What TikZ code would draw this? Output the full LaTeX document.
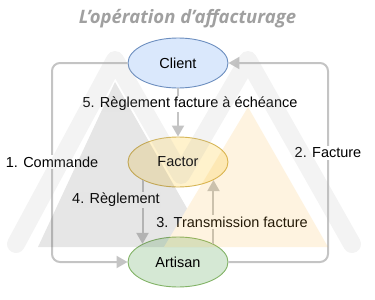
\documentclass[tikz,border=0pt]{standalone}
\usepackage{fontspec}
\setmainfont{Liberation Sans}
\newfontfamily\titlefont{Open Sans}
\usepackage{xcolor}
\definecolor{afblue}{HTML}{DAE8FC}
\definecolor{afbluedark}{HTML}{6C8EBF}
\definecolor{afyellow}{HTML}{FFF2CC}
\definecolor{afyellowdark}{HTML}{D6B656}
\definecolor{afgreen}{HTML}{D5E8D4}
\definecolor{afgreendark}{HTML}{82B366}
\definecolor{afline}{HTML}{C4C4C4}
\definecolor{aftitle}{HTML}{A0A0A0}
\definecolor{afband}{HTML}{B0B0B0}
\definecolor{afgray}{HTML}{555555}
\definecolor{aforange}{HTML}{F7B030}
\usetikzlibrary{arrows.meta, shapes.geometric}

\begin{document}
\begin{tikzpicture}[x=1pt, y=-1pt,
  actor/.style={ellipse, minimum width=100pt, minimum height=50pt, line width=0.9pt,
    font=\fontsize{14.5}{16}\selectfont},
  flow/.style={afline, line width=2pt, -{Triangle[length=11pt, width=12pt]}},
  lbl/.style={fill=white, inner sep=1.5pt, font=\fontsize{14.5}{16}\selectfont}]
  \useasboundingbox (0,0) rectangle (375,300);

  % Title
  \node[font=\titlefont\bfseries\itshape\fontsize{18.5}{20}\selectfont, aftitle] (title) at (187.5,19) {L’opération d’affacturage};

  % Actors
  \node[actor, fill=afblue, draw=afbluedark] (client) at (178,63) {Client};
  \node[actor, fill=afyellow, draw=afyellowdark] (factor) at (178,162) {Factor};
  \node[actor, fill=afgreen, draw=afgreendark] (artisan) at (178,262) {Artisan};

  % Outer loops
  \coordinate (lc) at (52,162);
  \coordinate (rc) at (328,153);
  \draw[flow, rounded corners=8pt] (client.west) -| (lc) |- (artisan.west);
  \draw[flow, rounded corners=8pt] (artisan.east) -| (rc) |- (client.east);
  \node[lbl] (cmd) at (lc) {1. Commande};
  \node[lbl] (fac) at (rc) {2. Facture};

  % Inner flows
  \draw[flow] (client.south) -- (factor.north);
  \draw[flow] (factor.207) -- (artisan.153);
  \draw[flow] (artisan.27) -- (factor.333);
  \node[lbl] (pay5) at (190,104) {5. Règlement facture à échéance};
  \node[lbl] (pay4) at (116,200) {4. Règlement};
  \node[lbl] (send3) at (232,222) {3. Transmission facture};

  % Watermark
  \begin{scope}[transparency group, opacity=0.15]
    \draw[afband, line width=18pt, line join=round, line cap=round]
      (16,244) -- (115,60) -- (181,175) -- (248,60) -- (352,244);
    \fill[afgray] (115,82) -- (38,247) -- (209,247) -- cycle;
    \fill[aforange] (248,107) -- (164,247) -- (328,247) -- cycle;
  \end{scope}
\end{tikzpicture}
\end{document}
